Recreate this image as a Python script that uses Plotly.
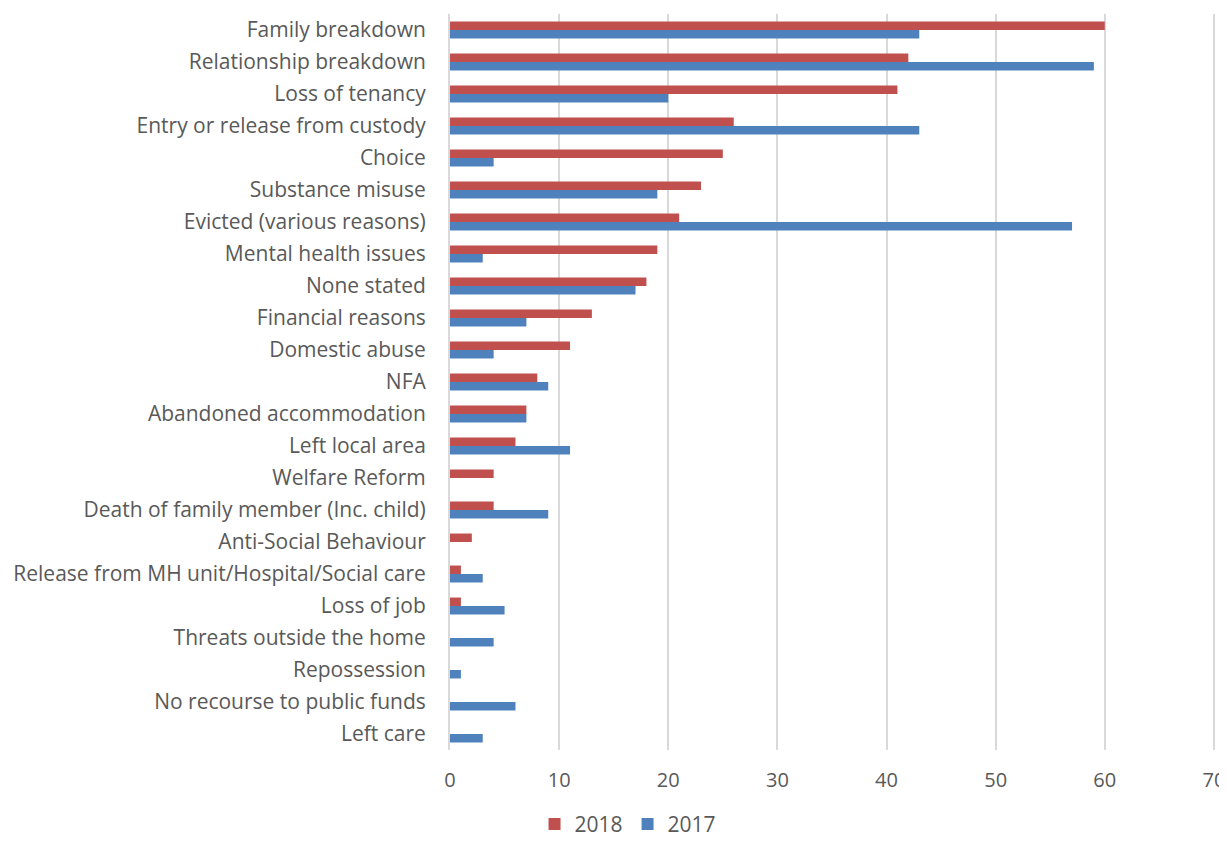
import plotly.graph_objects as go

categories = [
    "Family breakdown", "Relationship breakdown", "Loss of tenancy",
    "Entry or release from custody", "Choice", "Substance misuse",
    "Evicted (various reasons)", "Mental health issues", "None stated",
    "Financial reasons", "Domestic abuse", "NFA", "Abandoned accommodation",
    "Left local area", "Welfare Reform", "Death of family member (Inc. child)",
    "Anti-Social Behaviour", "Release from MH unit/Hospital/Social care",
    "Loss of job", "Threats outside the home", "Repossession",
    "No recourse to public funds", "Left care",
]
values_2018 = [60, 42, 41, 26, 25, 23, 21, 19, 18, 13, 11, 8, 7, 6, 4, 4, 2, 1, 1, 0, 0, 0, 0]
values_2017 = [43, 59, 20, 43, 4, 19, 57, 3, 17, 7, 4, 9, 7, 11, 0, 9, 0, 3, 5, 4, 1, 6, 3]
x_ticks = [0, 10, 20, 30, 40, 50, 60, 70]

FONT = "Open Sans"
TXT = "#595959"

fig = go.Figure()
fig.add_trace(go.Bar(y=categories, x=values_2018, name="2018", orientation="h",
                     marker=dict(color="#C0504D", line=dict(width=0))))
fig.add_trace(go.Bar(y=categories, x=values_2017, name="2017", orientation="h",
                     marker=dict(color="#4F81BD", line=dict(width=0))))

fig.update_layout(
    width=1211, height=825,
    paper_bgcolor="white", plot_bgcolor="white",
    barmode="group", bargap=0.47, bargroupgap=0,
    margin=dict(l=442, r=4, t=6, b=83, autoexpand=False),
    font=dict(family=FONT, size=21, color=TXT),
    xaxis=dict(range=[0, 70.1], tickvals=x_ticks, showgrid=True,
               gridcolor="#D9D9D9", gridwidth=2, zeroline=False,
               showline=False, ticks="", ticklabelstandoff=16,
               ticklabeloverflow="allow",
               tickfont=dict(size=20, color=TXT)),
    yaxis=dict(autorange="reversed", showgrid=False, showline=True,
               linecolor="#D9D9D9", linewidth=2, ticks="",
               ticklabelstandoff=18, tickfont=dict(size=21, color=TXT)),
    legend=dict(orientation="h", xref="container", yref="paper",
                x=0.512, xanchor="center", y=-0.101, yanchor="middle",
                font=dict(size=21, color=TXT), itemwidth=30,
                traceorder="normal"),
)

fig.write_html("out.html")
